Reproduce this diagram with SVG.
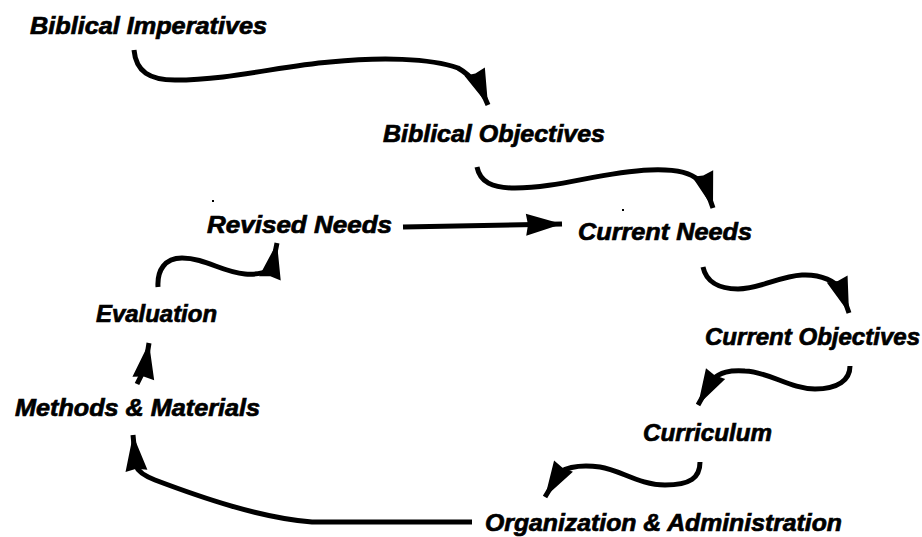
<svg xmlns="http://www.w3.org/2000/svg" width="922" height="537" viewBox="0 0 922 537">
<style>
  .lbl { font-family: "Liberation Sans", Arial, sans-serif; font-size: 24px; font-weight: bold; font-style: italic; fill: #000; stroke: #000; stroke-width: 0.7; }
  .con { fill: none; stroke: #000; stroke-width: 5; stroke-linecap: butt; stroke-linejoin: round; marker-end: url(#ah); }
</style>
<defs>
  <marker id="ah" markerUnits="userSpaceOnUse" markerWidth="38" markerHeight="24" refX="36" refY="11" orient="auto" overflow="visible">
    <path d="M0,0 L36,11 L0,22 L2,11 Z" fill="#000"/>
  </marker>
</defs>
<rect width="922" height="537" fill="#fff"/>
<g id="connectors">
  <path class="con" d="M134,50 C136,72 150,80 175,80 C230,80 280,66 330,62 C380,57 430,58 458,68 C472,76 482,90 488,105"/>
  <path class="con" d="M477,167 C480,182 492,188 515,188 C560,188 600,172 650,170 C675,169 690,172 698,180 C705,188 710,198 713,208"/>
  <path class="con" d="M403,227 L562,224"/>
  <path class="con" d="M158,287 C157,270 165,258 182,258 C205,258 222,272 245,274 C258,275 268,272 272,268 L277,243"/>
  <path class="con" d="M137,384 L145,368 L149,343"/>
  <path class="con" d="M703,267 C706,281 718,289 738,289 C760,289 780,276 802,275 C822,274 836,282 841,290 L849,313"/>
  <path class="con" d="M850,366 C850,380 838,389 815,389 C790,389 770,372 745,371 C730,370 720,372 712,380 L698,405"/>
  <path class="con" d="M700,462 C700,478 690,485 665,485 C640,485 620,470 600,467 C585,465 570,466 560,472 L545,497"/>
  <path class="con" d="M472,522 L312,522 C260,518 200,497 155,480 C145,476 138,472 136,466 L133,435"/>
</g>
<rect x="212" y="200" width="2" height="2" fill="#000"/>
<rect x="622" y="209" width="2" height="2" fill="#000"/>
<g id="biblical-imperatives"><text class="lbl" x="30" y="34" textLength="237" lengthAdjust="spacingAndGlyphs">Biblical Imperatives</text></g>
<g id="biblical-objectives"><text class="lbl" x="383" y="142" textLength="222" lengthAdjust="spacingAndGlyphs">Biblical Objectives</text></g>
<g id="revised-needs"><text class="lbl" x="207" y="233" textLength="185" lengthAdjust="spacingAndGlyphs">Revised Needs</text></g>
<g id="current-needs"><text class="lbl" x="578" y="240" textLength="174" lengthAdjust="spacingAndGlyphs">Current Needs</text></g>
<g id="evaluation"><text class="lbl" x="96" y="322" textLength="121" lengthAdjust="spacingAndGlyphs">Evaluation</text></g>
<g id="methods-materials"><text class="lbl" x="15" y="416" textLength="245" lengthAdjust="spacingAndGlyphs">Methods &amp; Materials</text></g>
<g id="current-objectives"><text class="lbl" x="705" y="345" textLength="215" lengthAdjust="spacingAndGlyphs">Current Objectives</text></g>
<g id="curriculum"><text class="lbl" x="643" y="441" textLength="129" lengthAdjust="spacingAndGlyphs">Curriculum</text></g>
<g id="organization-administration"><text class="lbl" x="485" y="531" textLength="357" lengthAdjust="spacingAndGlyphs">Organization &amp; Administration</text></g>
</svg>
